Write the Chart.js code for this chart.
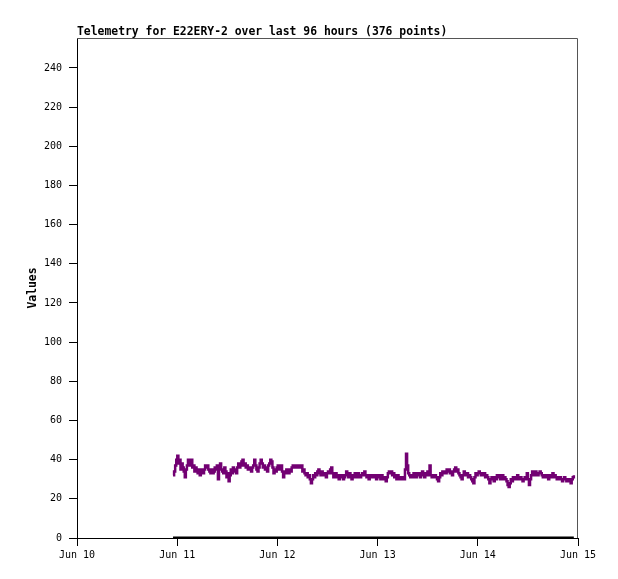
<!DOCTYPE html>
<html>
<head>
<meta charset="utf-8">
<script src="https://cdn.jsdelivr.net/npm/chart.js@4.4.1/dist/chart.umd.min.js"></script>
<style>
  html, body { margin: 0; padding: 0; background: #fff; }
  canvas { display: block; }
</style>
</head>
<body>
<canvas id="telemetry-chart" width="618" height="579"></canvas>
<script>
/* ===== DATA ===== */

const chartTitle = "Telemetry for E22ERY-2 over last 96 hours (376 points)";
const yAxisLabel = "Values";
const dayLabels = ["Jun 10", "Jun 11", "Jun 12", "Jun 13", "Jun 14", "Jun 15"];

// hours counted from Jun 10 00:00
const firstHour = 23;
const spanHours = 96;

const telemetry = [
  32, 34, 37, 40, 42, 38, 40, 35, 38, 36, 34, 31, 35, 37, 40, 37, 39, 40, 36, 37,
  34, 36, 35, 33, 35, 32, 34, 35, 33, 35, 37, 36, 37, 35, 34, 33, 35, 33, 34, 36,
  35, 37, 30, 36, 38, 35, 34, 33, 36, 34, 31, 33, 29, 32, 35, 33, 36, 34, 35, 33,
  36, 38, 36, 37, 39, 40, 37, 38, 36, 37, 35, 36, 35, 34, 36, 37, 40, 37, 35, 34,
  36, 38, 40, 38, 36, 37, 35, 36, 34, 37, 38, 40, 39, 36, 33, 35, 34, 36, 37, 35,
  36, 37, 34, 31, 34, 33, 35, 34, 33, 35, 34, 36, 37, 36, 37, 37, 36, 37, 37, 36,
  37, 34, 35, 33, 32, 33, 31, 32, 30, 28, 30, 32, 31, 33, 32, 34, 35, 33, 32, 34,
  33, 32, 33, 31, 33, 34, 33, 35, 36, 33, 31, 32, 33, 31, 32, 30, 32, 31, 32, 30,
  31, 32, 34, 32, 31, 33, 32, 30, 32, 31, 33, 32, 31, 33, 32, 31, 32, 33, 32, 34,
  32, 31, 32, 30, 31, 32, 31, 32, 31, 32, 30, 31, 32, 31, 30, 32, 31, 30, 31, 29,
  31, 33, 34, 33, 34, 32, 33, 31, 32, 30, 32, 31, 30, 31, 30, 31, 30, 35, 43, 37,
  33, 32, 31, 32, 31, 33, 32, 31, 33, 32, 33, 31, 32, 34, 33, 31, 33, 32, 34, 32,
  37, 32, 31, 32, 31, 32, 31, 30, 29, 31, 33, 32, 34, 33, 34, 33, 35, 34, 35, 33,
  34, 32, 34, 35, 36, 34, 35, 33, 32, 31, 30, 32, 34, 33, 32, 33, 31, 32, 31, 30,
  29, 28, 31, 33, 32, 33, 34, 33, 32, 33, 32, 33, 31, 32, 31, 30, 28, 30, 31, 30,
  29, 31, 30, 32, 31, 32, 30, 31, 32, 30, 31, 30, 29, 27, 26, 28, 30, 29, 31, 30,
  31, 30, 32, 31, 30, 31, 30, 29, 30, 31, 30, 33, 30, 27, 30, 32, 34, 33, 32, 34,
  33, 32, 33, 34, 33, 32, 31, 32, 31, 32, 31, 30, 32, 31, 32, 33, 31, 32, 31, 30,
  31, 30, 31, 30, 29, 30, 31, 30, 29, 30, 29, 30, 28, 30, 31, 32
];

const baseline = [0, 0];

/* ===== HELPERS ===== */

const monoFont = "'DejaVu Sans Mono', 'Liberation Mono', monospace";

function toPoints(values) {
  const step = spanHours / (values.length - 1);
  return values.map((v, i) => ({ x: firstHour + i * step, y: v }));
}

const framePlugin = {
  id: "frame",
  beforeDatasetsDraw(chart) {
    const { ctx, chartArea: a } = chart;
    ctx.save();
    ctx.strokeStyle = "#555";
    ctx.lineWidth = 1;
    ctx.beginPath();
    ctx.moveTo(a.left, a.top + 0.5);
    ctx.lineTo(a.right - 0.5, a.top + 0.5);
    ctx.lineTo(a.right - 0.5, a.bottom);
    ctx.stroke();
    ctx.restore();
  },
  afterDraw(chart) {
    const { ctx, chartArea: a } = chart;
    ctx.save();
    ctx.fillStyle = "#000";
    ctx.font = "bold 11.4px " + monoFont;
    ctx.textAlign = "left";
    ctx.textBaseline = "alphabetic";
    ctx.fillText(chartTitle, a.left, 35);

    ctx.translate(36, (a.top + a.bottom) / 2);
    ctx.rotate(-Math.PI / 2);
    ctx.textAlign = "center";
    ctx.fillText(yAxisLabel, 0, 0);
    ctx.restore();
  }
};

/* ===== CHART ===== */

new Chart(document.getElementById("telemetry-chart"), {
  type: "line",
  data: {
    datasets: [
      {
        data: toPoints(telemetry),
        borderColor: "#720072",
        borderWidth: 2.5,
        stepped: true,
        pointRadius: 0,
        fill: false
      },
      {
        data: toPoints(baseline),
        borderColor: "#000",
        borderWidth: 3,
        pointRadius: 0,
        fill: false
      }
    ]
  },
  options: {
    responsive: false,
    animation: false,
    devicePixelRatio: 1,
    layout: { padding: { top: 38, right: 40, bottom: 0, left: 0 } },
    plugins: {
      legend: { display: false },
      tooltip: { enabled: false },
      title: { display: false }
    },
    scales: {
      x: {
        type: "linear",
        min: 0,
        max: 120,
        afterFit: s => { s.height = 41; },
        border: { display: true, color: "#000", width: 1 },
        grid: { drawOnChartArea: false, drawTicks: true, tickLength: 8, color: "#000" },
        ticks: {
          stepSize: 24,
          padding: 3,
          color: "#000",
          maxRotation: 0,
          font: { family: monoFont, size: 10 },
          callback: (v, i) => dayLabels[i]
        }
      },
      y: {
        min: 0,
        max: 255.3,
        afterFit: s => { s.width = 77; },
        border: { display: true, color: "#000", width: 1 },
        grid: { drawOnChartArea: false, drawTicks: true, tickLength: 8, color: "#000" },
        ticks: {
          stepSize: 20,
          includeBounds: false,
          padding: 7,
          color: "#000",
          font: { family: monoFont, size: 10 }
        }
      }
    }
  },
  plugins: [framePlugin]
});
</script>
</body>
</html>
